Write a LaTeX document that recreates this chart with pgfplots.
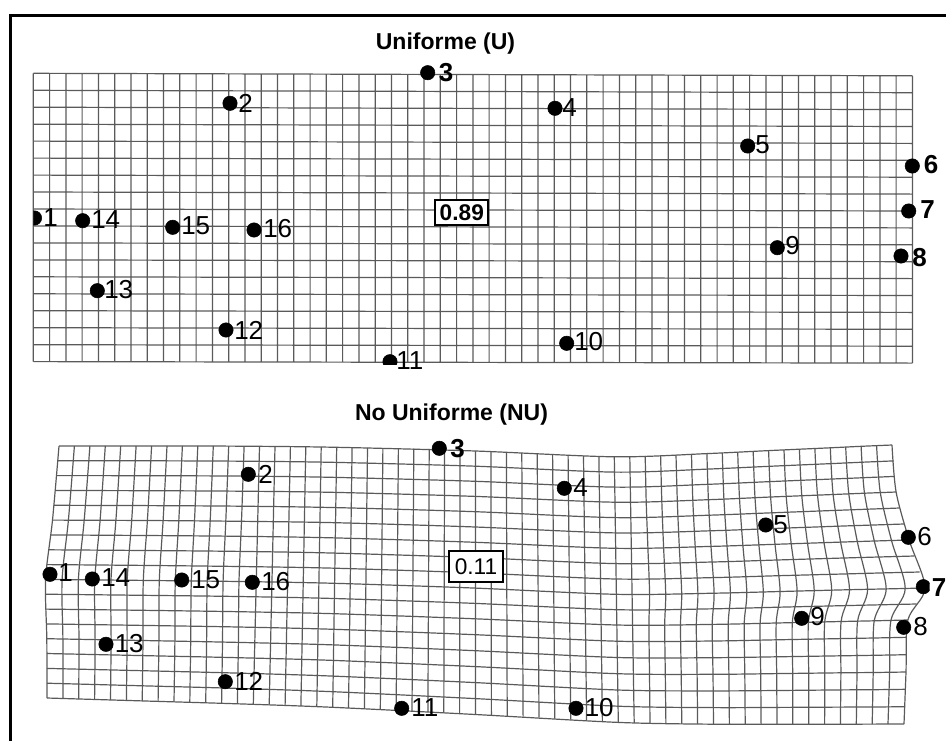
\documentclass[border=0pt]{standalone}
\usepackage{pgfplots}
\pgfplotsset{compat=1.18}
\usepackage{pgfplotstable}
\usepackage{fontspec}
\setmainfont{Liberation Sans}

\definecolor{gridgray}{RGB}{90,90,90}
\newcommand\lab{\fontsize{19.5}{22}\selectfont}
\newcommand\ttl{\fontsize{17.25}{20}\selectfont\bfseries}

% Coordinates are in picture units (1 unit = 0.75pt), y growing downwards.

% Uniform component: regular grid, vertical then horizontal segments
\pgfplotstableread{
x y
33.3 73.3
33.3 361.6
nan nan
49.6 73.3
49.6 361.6
nan nan
65.9 73.4
65.9 361.7
nan nan
82.1 73.4
82.1 361.7
nan nan
98.4 73.5
98.4 361.7
nan nan
114.7 73.5
114.7 361.7
nan nan
131.0 73.6
131.0 361.8
nan nan
147.3 73.6
147.3 361.8
nan nan
163.5 73.7
163.5 361.8
nan nan
179.8 73.7
179.8 361.9
nan nan
196.1 73.8
196.1 361.9
nan nan
212.4 73.8
212.4 361.9
nan nan
228.7 73.9
228.7 361.9
nan nan
244.9 73.9
244.9 362.0
nan nan
261.2 73.9
261.2 362.0
nan nan
277.5 74.0
277.5 362.0
nan nan
293.8 74.0
293.8 362.0
nan nan
310.1 74.1
310.1 362.1
nan nan
326.3 74.1
326.3 362.1
nan nan
342.6 74.2
342.6 362.1
nan nan
358.9 74.2
358.9 362.2
nan nan
375.2 74.3
375.2 362.2
nan nan
391.5 74.3
391.5 362.2
nan nan
407.7 74.4
407.7 362.2
nan nan
424.0 74.4
424.0 362.3
nan nan
440.3 74.5
440.3 362.3
nan nan
456.6 74.5
456.6 362.3
nan nan
472.9 74.6
472.9 362.4
nan nan
489.1 74.6
489.1 362.4
nan nan
505.4 74.6
505.4 362.4
nan nan
521.7 74.7
521.7 362.4
nan nan
538.0 74.7
538.0 362.5
nan nan
554.3 74.8
554.3 362.5
nan nan
570.5 74.8
570.5 362.5
nan nan
586.8 74.9
586.8 362.5
nan nan
603.1 74.9
603.1 362.6
nan nan
619.4 75.0
619.4 362.6
nan nan
635.7 75.0
635.7 362.6
nan nan
651.9 75.1
651.9 362.7
nan nan
668.2 75.1
668.2 362.7
nan nan
684.5 75.2
684.5 362.7
nan nan
700.8 75.2
700.8 362.7
nan nan
717.1 75.2
717.1 362.8
nan nan
733.3 75.3
733.3 362.8
nan nan
749.6 75.3
749.6 362.8
nan nan
765.9 75.4
765.9 362.8
nan nan
782.2 75.4
782.2 362.9
nan nan
798.5 75.5
798.5 362.9
nan nan
814.7 75.5
814.7 362.9
nan nan
831.0 75.6
831.0 363.0
nan nan
847.3 75.6
847.3 363.0
nan nan
863.6 75.7
863.6 363.0
nan nan
879.9 75.7
879.9 363.0
nan nan
896.1 75.8
896.1 363.1
nan nan
912.4 75.8
912.4 363.1
nan nan
33.3 73.3
912.4 75.8
nan nan
33.3 90.3
912.4 92.7
nan nan
33.3 107.2
912.4 109.6
nan nan
33.3 124.2
912.4 126.5
nan nan
33.3 141.1
912.4 143.4
nan nan
33.3 158.1
912.4 160.3
nan nan
33.3 175.1
912.4 177.2
nan nan
33.3 192.0
912.4 194.1
nan nan
33.3 209.0
912.4 211.0
nan nan
33.3 225.9
912.4 227.9
nan nan
33.3 242.9
912.4 244.8
nan nan
33.3 259.9
912.4 261.7
nan nan
33.3 276.8
912.4 278.6
nan nan
33.3 293.8
912.4 295.5
nan nan
33.3 310.7
912.4 312.4
nan nan
33.3 327.7
912.4 329.3
nan nan
33.3 344.7
912.4 346.2
nan nan
33.3 361.6
912.4 363.1
}\gridU

% Non-uniform component: deformed grid, vertical lines
\pgfplotstableread{
x y
59.0 446.0
52.5 520.1
45.6 579.4
46.8 638.7
47.0 698.0
nan nan
74.4 446.0
68.4 520.2
62.1 579.6
62.9 639.0
62.9 698.5
nan nan
89.9 446.0
84.2 520.2
78.4 579.7
79.0 639.3
78.7 699.0
nan nan
105.3 445.9
100.1 520.3
94.8 579.9
95.1 639.6
94.6 699.4
nan nan
120.7 445.9
115.9 520.4
111.0 580.0
111.1 639.9
110.5 699.9
nan nan
136.1 445.9
131.7 520.5
127.2 580.2
127.1 640.2
126.4 700.4
nan nan
151.6 445.9
147.4 520.5
143.3 580.4
143.0 640.5
142.2 700.9
nan nan
167.0 445.9
163.1 520.6
159.3 580.5
158.9 640.8
158.1 701.4
nan nan
182.4 445.9
178.8 520.7
175.3 580.7
174.9 641.1
174.0 701.9
nan nan
197.8 445.8
194.5 520.8
191.3 580.8
190.7 641.4
189.8 702.3
nan nan
213.3 445.9
210.2 520.8
207.2 581.0
206.6 641.7
205.7 702.8
nan nan
228.7 446.1
225.8 520.9
223.1 581.2
222.5 642.0
221.6 703.3
nan nan
244.1 446.2
241.5 521.0
239.0 581.3
238.4 642.3
237.4 703.8
nan nan
259.5 446.4
253.3 704.3
nan nan
275.0 446.5
269.2 704.7
nan nan
290.4 446.6
285.1 705.2
nan nan
305.8 446.8
300.9 705.9
nan nan
321.2 447.0
316.8 706.6
nan nan
336.7 447.3
332.7 707.3
nan nan
352.1 447.6
348.5 708.1
nan nan
367.5 447.9
364.4 708.9
nan nan
382.9 448.1
380.3 709.8
nan nan
398.4 448.4
396.1 710.6
nan nan
413.8 448.6
412.0 711.4
nan nan
429.2 448.9
427.9 712.2
nan nan
444.6 449.5
443.8 712.9
nan nan
460.1 450.3
459.6 713.7
nan nan
475.5 451.0
475.5 714.5
nan nan
490.9 451.7
491.4 715.2
nan nan
506.4 452.5
507.2 715.9
nan nan
521.8 453.1
523.1 716.5
nan nan
537.2 453.8
539.0 717.6
nan nan
552.6 454.5
554.8 718.6
nan nan
568.1 455.2
570.7 719.7
nan nan
583.5 455.8
586.6 720.6
nan nan
598.9 456.4
602.4 721.6
nan nan
614.3 456.8
618.3 722.4
nan nan
629.8 456.4
634.2 722.8
nan nan
645.2 455.9
646.2 501.5
647.9 547.8
649.6 594.1
648.9 625.0
649.5 674.1
650.0 723.2
nan nan
660.6 455.5
661.8 501.2
663.6 547.6
665.7 594.0
664.7 625.0
665.3 674.3
665.9 723.6
nan nan
676.0 454.9
677.3 500.7
679.3 547.2
681.7 593.7
680.5 624.8
681.2 674.3
681.8 723.8
nan nan
691.5 454.2
692.8 500.2
695.2 546.8
697.9 593.5
696.3 624.6
697.1 674.3
697.6 724.0
nan nan
706.9 453.6
708.4 499.7
711.0 546.4
714.1 593.2
712.2 624.4
713.0 674.3
713.5 724.2
nan nan
722.3 452.9
723.9 499.0
727.0 545.9
730.4 592.8
728.2 624.1
728.9 674.1
729.4 724.2
nan nan
737.7 452.2
739.5 498.4
742.9 545.4
746.8 592.4
744.2 623.8
744.8 674.0
745.2 724.3
nan nan
753.2 451.5
755.0 497.8
758.9 544.9
763.3 592.0
760.1 623.4
760.7 673.8
761.1 724.3
nan nan
768.6 450.6
770.6 497.0
775.0 544.3
780.1 591.5
776.2 623.0
776.7 673.6
777.0 724.2
nan nan
784.0 449.9
786.2 496.4
791.2 543.8
797.1 591.1
792.3 622.7
792.7 673.5
792.8 724.3
nan nan
799.4 449.1
801.8 495.7
807.5 543.2
814.2 590.6
808.4 622.3
808.7 673.3
808.7 724.3
nan nan
814.9 448.4
817.5 495.1
824.0 542.6
831.7 590.2
824.7 621.9
824.8 673.1
824.6 724.3
nan nan
830.3 447.8
833.1 494.5
840.6 542.1
849.5 589.7
841.1 621.5
840.9 672.8
840.4 724.2
nan nan
845.7 447.1
848.8 493.9
857.3 541.6
867.6 589.3
857.6 621.1
857.0 672.6
856.3 724.2
nan nan
861.1 446.3
864.5 493.2
874.3 541.0
886.2 588.9
874.2 620.8
873.2 672.5
872.2 724.1
nan nan
876.6 445.7
880.3 492.6
891.5 540.5
905.2 588.4
890.9 620.4
889.6 672.2
888.0 724.0
nan nan
892.0 445.0
896.1 492.0
909.1 540.0
925.0 588.0
907.9 620.0
906.0 672.0
904.0 724.0
}\gridNv

% Non-uniform component: deformed grid, horizontal lines
\pgfplotstableread{
x y
59.0 446.0
151.6 445.9
244.1 446.2
336.7 447.3
475.5 451.0
614.3 456.8
706.9 453.6
768.6 450.6
830.3 447.8
861.2 446.3
892.0 445.0
nan nan
57.8 460.8
150.8 460.8
243.6 461.2
336.4 462.4
475.5 466.2
614.5 472.1
707.4 469.1
769.3 466.3
831.3 463.6
862.4 462.2
893.5 460.9
nan nan
56.5 475.6
149.9 475.7
243.1 476.1
336.2 477.4
475.5 481.3
614.8 487.1
707.9 484.3
770.0 481.6
832.2 479.0
863.5 477.7
894.8 476.4
nan nan
55.0 490.5
149.0 490.7
242.5 491.2
336.0 492.4
475.5 496.4
615.0 502.2
708.4 499.7
770.6 497.0
833.1 494.5
864.6 493.2
896.1 492.0
nan nan
53.8 505.3
148.2 505.6
242.0 506.2
335.7 507.6
475.5 511.7
615.2 517.6
709.1 515.2
771.8 512.8
835.1 510.4
867.2 509.2
899.5 508.0
nan nan
52.5 520.1
147.4 520.5
241.5 521.3
335.5 522.7
475.5 527.0
615.5 532.9
710.0 530.8
773.3 528.5
837.6 526.2
870.4 525.1
903.8 524.0
nan nan
50.5 534.9
146.2 535.5
240.8 536.3
335.3 537.9
475.5 542.3
615.7 548.3
711.0 546.4
775.0 544.3
840.5 542.1
874.4 541.0
909.1 540.0
nan nan
48.5 549.8
145.1 550.5
240.1 551.4
335.0 553.1
475.5 557.6
615.9 563.6
712.0 562.0
776.7 560.0
843.5 558.0
878.3 557.0
914.4 556.0
nan nan
46.7 564.6
144.0 565.4
239.5 566.5
334.8 568.2
475.5 572.9
616.2 579.0
713.0 577.6
778.4 575.7
846.4 573.9
882.3 572.9
919.7 572.0
nan nan
45.6 579.4
143.3 580.4
239.0 581.5
334.6 583.3
475.5 588.1
616.4 594.3
714.0 593.2
780.1 591.5
849.4 589.7
886.2 588.9
925.0 588.0
nan nan
45.3 594.2
143.0 595.3
238.7 596.5
334.3 598.5
475.5 603.4
616.7 609.7
713.2 608.8
778.2 607.2
845.2 605.6
880.2 604.8
916.5 604.0
nan nan
45.6 609.1
142.9 610.3
238.6 611.7
334.1 613.7
475.5 618.8
616.9 625.0
712.3 624.4
776.2 623.0
841.1 621.5
874.2 620.8
907.9 620.0
nan nan
46.2 623.9
142.9 625.4
238.5 627.0
333.8 629.3
475.5 634.7
617.1 641.2
712.5 641.0
776.3 639.8
840.7 638.6
873.5 638.0
906.8 637.3
nan nan
46.8 638.7
143.0 640.5
238.3 642.4
333.6 644.9
475.5 650.7
617.4 657.5
712.7 657.7
776.4 656.8
840.7 655.8
873.3 655.3
906.2 654.7
nan nan
47.0 653.5
142.9 655.6
238.2 657.7
333.4 660.4
475.5 666.6
617.6 673.7
713.0 674.3
776.7 673.6
840.8 672.8
873.3 672.5
906.0 672.0
nan nan
47.0 668.4
142.7 670.7
237.9 673.1
333.1 676.1
475.5 682.6
617.8 690.0
713.2 690.9
776.9 690.5
840.8 689.9
873.1 689.7
905.5 689.3
nan nan
47.0 683.2
142.5 685.8
237.7 688.4
332.9 691.7
475.5 698.6
618.1 706.2
713.4 707.6
777.0 707.4
840.7 707.1
872.8 707.0
904.8 706.7
nan nan
47.0 698.0
142.2 700.9
237.4 703.8
332.7 707.3
475.5 714.5
618.3 722.4
713.5 724.2
777.0 724.2
840.4 724.2
872.2 724.1
904.0 724.0
}\gridNh

% Landmarks 1..16 on each grid
\pgfplotstableread{
x y
34.5 218
230 103.3
427.7 72.7
555 108.3
747.7 146
912.3 166
908.7 211
901 256
777.3 247.7
566.7 343.3
390 361.7
226 330
97.3 290.7
82.7 220.7
172.7 227.3
254 230
}\dotsU

\pgfplotstableread{
x y
50 574.3
248.3 474.3
439.3 448.3
564.3 488.3
765.7 525
908.3 537.3
923.3 586.7
903.7 627.3
801.7 618.3
576 708.3
401.7 708.3
225.3 681.7
106 644.3
92.3 579
181.7 580
252.3 582.3
}\dotsNU

\begin{document}
\begin{tikzpicture}
\pgfplotsset{
  panel/.style={x=0.75pt, y=0.75pt, y dir=reverse, hide axis, anchor=north west},
  gridline/.style={draw=gridgray, line width=0.9pt, unbounded coords=jump, mark=none},
  landmark/.style={only marks, mark=*, mark size=5.4pt, black},
  numlab/.style={draw=none, mark=none, nodes near coords, point meta=explicit symbolic,
    nodes near coords style={anchor=west, inner sep=0pt, text=black, font=\lab}},
  numlabbf/.style={draw=none, mark=none, nodes near coords, point meta=explicit symbolic,
    nodes near coords style={anchor=west, inner sep=0pt, text=black, font=\lab\bfseries}},
}

% grids, numbers, titles and values
\begin{axis}[panel, at={(0pt,0pt)}, xmin=0, xmax=946, ymin=0, ymax=741, clip=false]
  \addplot[gridline] table {\gridU};
  \addplot[gridline, smooth] table {\gridNv};
  \addplot[gridline, smooth] table {\gridNh};

  \addplot[numlab] coordinates {
    (43,218) [1] (238,103) [2] (562,108) [4] (755,145) [5] (785,246) [9]
    (574,342) [10] (396,361) [11] (234,330) [12] (104,290) [13]
    (91,220) [14] (181,226) [15] (263,229) [16]};
  \addplot[numlabbf] coordinates {
    (438.5,72.5) [3] (923.5,165) [6] (920,210) [7] (912,258) [8]};

  \addplot[numlab] coordinates {
    (58,573) [1] (258,474) [2] (573,488) [4] (773,525) [5] (917,537) [6]
    (913,627) [8] (810,617) [9] (584.5,708) [10] (411,708) [11] (234,681) [12]
    (114.5,644) [13] (101,578) [14] (191,580) [15] (261,582) [16]};
  \addplot[numlabbf] coordinates {(450,449) [3] (931.5,588) [7]};

  \node[font=\ttl, anchor=base] at (axis cs:445.5,49) {Uniforme (U)};
  \node[font=\ttl, anchor=base] at (axis cs:451.5,420) {No Uniforme (NU)};

  \node[draw=black, fill=white, line width=1.5pt, inner sep=0pt,
        minimum width=39.8pt, minimum height=18.5pt,
        font=\fontsize{17}{19}\selectfont\bfseries] at (axis cs:461.8,212.7) {0.89};
  \node[draw=black, fill=white, line width=1.5pt, inner sep=0pt,
        minimum width=40.9pt, minimum height=23pt,
        font=\fontsize{17}{19}\selectfont] at (axis cs:476,566.3) {0.11};
\end{axis}

% landmarks, clipped to each panel
\begin{axis}[panel, at={(24.975pt,-30pt)}, xmin=33.3, xmax=946, ymin=40, ymax=364,
             clip marker paths=true]
  \addplot[landmark] table {\dotsU};
\end{axis}
\begin{axis}[panel, at={(0pt,-285pt)}, xmin=0, xmax=929.5, ymin=380, ymax=741,
             clip marker paths=true]
  \addplot[landmark] table {\dotsNU};
\end{axis}

% frame
\draw[line width=2.25pt] (7.875pt,-600pt) -- (7.875pt,-11.475pt) -- (720pt,-11.475pt);

\pgfresetboundingbox
\path[use as bounding box] (0pt,0pt) rectangle (709.5pt,-555.75pt);
\end{tikzpicture}
\end{document}
